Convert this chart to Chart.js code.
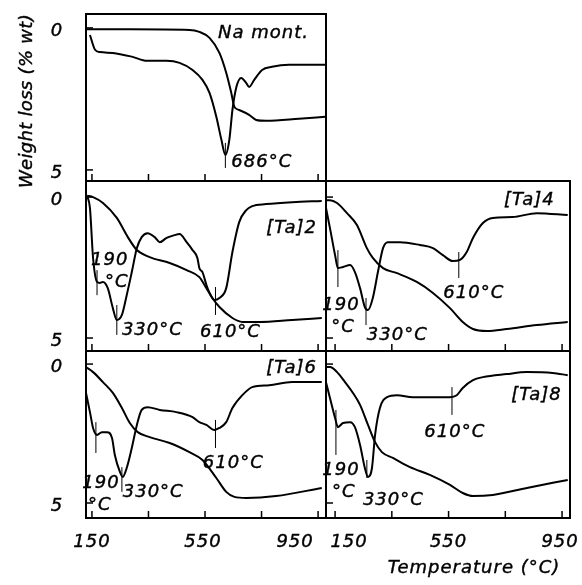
<!DOCTYPE html>
<html>
<head>
<meta charset="utf-8">
<script src="https://cdn.jsdelivr.net/npm/chart.js@4.4.1/dist/chart.umd.min.js"></script>
<style>
  html, body { margin: 0; padding: 0; background: #fff; }
  #wrap { position: relative; width: 582px; height: 585px; overflow: hidden; }
  #wrap canvas { position: absolute; left: 0; top: 0; }
</style>
</head>
<body>
<div id="wrap">
  <canvas id="na" width="582" height="585"></canvas>
  <canvas id="ta2" width="582" height="585"></canvas>
  <canvas id="ta4" width="582" height="585"></canvas>
  <canvas id="ta6" width="582" height="585"></canvas>
  <canvas id="ta8" width="582" height="585"></canvas>
</div>
<script>
// tick values shared by every panel
const xTickValues = [150, 350, 550, 750, 950];
const xTickLabels = [150, 550, 950];
const yTickValues = [0, 5];

// Na montmorillonite
const naTgT = [129, 284, 495, 530, 566, 601, 625, 643, 654, 671, 706, 731, 766, 882, 975];
const naTgW = [0.05, 0.05, 0.07, 0.14, 0.35, 0.88, 1.58, 2.29, 2.78, 2.89, 3.06, 3.24, 3.27, 3.20, 3.13];
const naDtgT = [143, 161, 178, 224, 294, 344, 414, 460, 506, 541, 566, 590, 608, 622, 636, 647, 661, 678, 696, 706, 724, 752, 787, 847, 975];
const naDtgV = [0.25, 0.77, 0.85, 0.88, 1.02, 1.16, 1.16, 1.23, 1.48, 1.83, 2.29, 3.13, 3.94, 4.47, 3.94, 2.89, 2.08, 1.76, 1.94, 2.08, 1.83, 1.48, 1.37, 1.30, 1.30];

// [Ta]2
const ta2TgT = [133, 154, 189, 238, 277, 309, 354, 425, 485, 530, 555, 576, 601, 647, 682, 742, 858, 963];
const ta2TgW = [-0.05, 0, 0.21, 0.74, 1.42, 1.88, 2.13, 2.34, 2.59, 2.84, 3.23, 3.58, 3.90, 4.29, 4.43, 4.43, 4.36, 4.29];
const ta2DtgT = [133, 143, 154, 168, 178, 189, 206, 224, 238, 256, 273, 291, 309, 326, 347, 372, 390, 414, 442, 460, 485, 506, 523, 530, 541, 555, 566, 583, 601, 625, 647, 671, 696, 717, 766, 858, 963];
const ta2DtgV = [-0.05, 0.39, 2.16, 3.01, 3.05, 3.01, 3.23, 3.94, 4.36, 4.18, 3.48, 2.66, 1.81, 1.42, 1.28, 1.42, 1.60, 1.45, 1.35, 1.31, 1.60, 1.88, 2.16, 2.52, 2.66, 3.12, 3.40, 3.65, 3.58, 3.23, 1.95, 0.89, 0.46, 0.32, 0.25, 0.18, 0.14];

// [Ta]4
const ta4TgT = [118, 132, 157, 192, 227, 262, 283, 319, 368, 438, 495, 555, 600, 636, 685, 755, 861, 970];
const ta4TgW = [0.11, 0.11, 0.21, 0.57, 0.99, 1.81, 2.16, 2.52, 2.70, 3.01, 3.40, 3.94, 4.43, 4.68, 4.75, 4.68, 4.54, 4.43];
const ta4DtgT = [118, 132, 150, 160, 178, 203, 220, 238, 255, 266, 283, 301, 319, 336, 379, 449, 495, 530, 565, 590, 614, 636, 671, 706, 776, 861, 970];
const ta4DtgV = [0.39, 1.10, 2.06, 2.52, 2.48, 2.41, 2.66, 3.23, 3.90, 4.01, 3.58, 2.66, 1.81, 1.60, 1.60, 1.70, 1.81, 2.06, 2.27, 2.23, 1.95, 1.45, 0.92, 0.74, 0.71, 0.57, 0.64];

// [Ta]6
const ta6TgT = [129, 154, 189, 224, 256, 284, 312, 354, 425, 495, 541, 590, 625, 654, 696, 801, 963];
const ta6TgW = [0.11, 0.29, 0.65, 1.04, 1.58, 2.12, 2.45, 2.63, 2.84, 3.17, 3.45, 4.10, 4.60, 4.78, 4.82, 4.75, 4.46];
const ta6DtgT = [129, 143, 154, 168, 185, 203, 221, 231, 249, 259, 273, 291, 309, 326, 347, 390, 449, 506, 530, 555, 583, 601, 625, 647, 682, 717, 777, 858, 963];
const ta6DtgV = [1.04, 1.73, 2.30, 2.55, 2.45, 2.45, 2.66, 3.27, 3.88, 4.06, 3.74, 3.02, 2.19, 1.65, 1.55, 1.65, 1.73, 1.91, 2.09, 2.19, 2.37, 2.30, 2.09, 1.58, 1.12, 0.83, 0.76, 0.65, 0.65];

// [Ta]8
const ta8TgT = [118, 132, 157, 185, 213, 238, 266, 291, 315, 354, 414, 484, 555, 600, 636, 706, 826, 970];
const ta8TgW = [0.11, 0.11, 0.29, 0.65, 1.04, 1.47, 2.19, 2.81, 3.17, 3.38, 3.71, 3.99, 4.35, 4.64, 4.75, 4.71, 4.46, 4.17];
const ta8DtgT = [118, 132, 150, 160, 178, 203, 220, 238, 255, 266, 280, 291, 308, 333, 368, 424, 484, 555, 579, 600, 636, 671, 755, 826, 917, 970];
const ta8DtgV = [0.65, 1.22, 1.94, 2.27, 2.12, 2.09, 2.27, 2.91, 3.74, 4.06, 3.74, 2.55, 1.58, 1.19, 1.12, 1.19, 1.19, 1.19, 1.12, 0.86, 0.58, 0.47, 0.36, 0.29, 0.32, 0.40];

const FONT = 'italic 18px "DejaVu Sans", sans-serif';

// panel layout: box = chart area in page pixels [left, top, right, bottom]
const panels = [
  {
    id: 'na', box: [86, 14, 326, 181], x: [129, 978], y: [-0.49, 5.39],
    tg: [naTgT, naTgW], dtg: [naDtgT, naDtgV], yLabels: true, titles: true,
    markers: [{ t: 622, from: 4.05, to: 4.93 }],
    notes: [
      { text: 'Na mont.', t: 918, v: 0.18, align: 'right' },
      { text: '686°C', t: 643, v: 4.75, align: 'left' }
    ]
  },
  {
    id: 'ta2', box: [86, 181, 326, 351], x: [129, 978], y: [-0.57, 5.46],
    tg: [ta2TgT, ta2TgW], dtg: [ta2DtgT, ta2DtgV], yLabels: true,
    markers: [{ t: 168, from: 2.59, to: 3.48 }, { t: 238, from: 3.83, to: 4.89 }, { t: 587, from: 3.19, to: 4.18 }],
    notes: [
      { text: '[Ta]2', t: 946, v: 1.10, align: 'right' },
      { text: '190', t: 213, v: 2.23 },
      { text: '°C', t: 238, v: 3.01 },
      { text: '330°C', t: 256, v: 4.72, align: 'left' },
      { text: '610°C', t: 640, v: 4.79 }
    ]
  },
  {
    id: 'ta4', box: [326, 181, 570, 351], x: [118, 978], y: [-0.57, 5.46],
    tg: [ta4TgT, ta4TgW], dtg: [ta4DtgT, ta4DtgV],
    markers: [{ t: 160, from: 1.88, to: 3.19 }, { t: 259, from: 3.58, to: 4.54 }, { t: 586, from: 1.95, to: 2.87 }],
    notes: [
      { text: '[Ta]4', t: 924, v: 0.11, align: 'right' },
      { text: '190', t: 171, v: 3.83 },
      { text: '°C', t: 178, v: 4.61 },
      { text: '330°C', t: 262, v: 4.89, align: 'left' },
      { text: '610°C', t: 639, v: 3.40 }
    ]
  },
  {
    id: 'ta6', box: [86, 351, 326, 518], x: [129, 978], y: [-0.47, 5.54],
    tg: [ta6TgT, ta6TgW], dtg: [ta6DtgT, ta6DtgV], yLabels: true,
    xLabelShift: [0, -2, -23],
    markers: [{ t: 164, from: 2.09, to: 3.20 }, { t: 256, from: 3.71, to: 4.60 }, { t: 587, from: 2.01, to: 3.02 }],
    notes: [
      { text: '[Ta]6', t: 946, v: 0.14, align: 'right' },
      { text: '190', t: 182, v: 4.28 },
      { text: '°C', t: 178, v: 5.07 },
      { text: '330°C', t: 259, v: 4.60, align: 'left' },
      { text: '610°C', t: 650, v: 3.56 }
    ]
  },
  {
    id: 'ta8', box: [326, 351, 570, 518], x: [118, 978], y: [-0.47, 5.54],
    tg: [ta8TgT, ta8TgW], dtg: [ta8DtgT, ta8DtgV],
    xLabelShift: [14, 0, -2],
    markers: [{ t: 153, from: 1.65, to: 3.27 }, { t: 262, from: 3.45, to: 4.10 }, { t: 562, from: 0.83, to: 1.83 }],
    notes: [
      { text: '[Ta]8', t: 949, v: 1.12, align: 'right' },
      { text: '190', t: 171, v: 3.81 },
      { text: '°C', t: 181, v: 4.60 },
      { text: '330°C', t: 248, v: 4.89, align: 'left' },
      { text: '610°C', t: 572, v: 2.45 }
    ]
  }
];

function toPoints(ts, vs) {
  return ts.map((t, i) => ({ x: t, y: vs[i] }));
}

function line(ctx, x1, y1, x2, y2) {
  ctx.beginPath();
  ctx.moveTo(x1, y1);
  ctx.lineTo(x2, y2);
  ctx.stroke();
}

// slightly heavier text, like the scanned lettering
function text(ctx, s, x, y) {
  ctx.fillText(s, x, y);
  ctx.strokeText(s, x, y);
}

// frame, inward ticks, peak markers and all the text of one panel
const panelDecor = {
  id: 'panelDecor',
  afterDatasetsDraw(chart, args, opts) {
    const p = opts.panel;
    const { ctx, chartArea: a } = chart;
    const x = chart.scales.x, y = chart.scales.y;
    ctx.save();
    ctx.strokeStyle = '#000';
    ctx.fillStyle = '#000';

    ctx.lineWidth = 2;
    ctx.strokeRect(a.left, a.top, a.right - a.left, a.bottom - a.top);

    ctx.lineWidth = 1.5;
    xTickValues.forEach(v => {
      const px = x.getPixelForValue(v);
      line(ctx, px, a.bottom, px, a.bottom - 7);
    });
    yTickValues.forEach(v => {
      const py = y.getPixelForValue(v);
      line(ctx, a.left, py, a.left + 7, py);
    });

    ctx.lineWidth = 1;
    p.markers.forEach(m => {
      const px = x.getPixelForValue(m.t);
      line(ctx, px, y.getPixelForValue(m.from), px, y.getPixelForValue(m.to));
    });

    ctx.font = FONT;
    ctx.letterSpacing = '1px';
    ctx.textBaseline = 'middle';
    ctx.lineWidth = 0.4;
    p.notes.forEach(n => {
      ctx.textAlign = n.align || 'center';
      text(ctx, n.text, x.getPixelForValue(n.t), y.getPixelForValue(n.v));
    });

    if (p.yLabels) {
      ctx.textAlign = 'center';
      yTickValues.forEach(v => text(ctx, String(v), 57, y.getPixelForValue(v) + 3));
    }
    if (p.xLabelShift) {
      ctx.textAlign = 'center';
      xTickLabels.forEach((v, i) => text(ctx, String(v), x.getPixelForValue(v) + p.xLabelShift[i], 542));
    }

    if (p.titles) {
      ctx.letterSpacing = '0.3px';
      ctx.save();
      ctx.translate(27, 101);
      ctx.rotate(-Math.PI / 2);
      text(ctx, 'Weight loss (% wt)', 0, 0);
      ctx.restore();
      ctx.letterSpacing = '1px';
      text(ctx, 'Temperature (°C)', 474, 568);
    }
    ctx.restore();
  }
};

panels.forEach(p => {
  const [l, t, r, b] = p.box;
  new Chart(document.getElementById(p.id), {
    type: 'line',
    data: {
      datasets: [
        { label: 'TG', data: toPoints(p.tg[0], p.tg[1]) },
        { label: 'DTG', data: toPoints(p.dtg[0], p.dtg[1]) }
      ]
    },
    options: {
      responsive: false,
      animation: false,
      devicePixelRatio: 1,
      layout: { padding: { left: l, top: t, right: 582 - r, bottom: 585 - b } },
      elements: {
        line: { borderColor: '#000', borderWidth: 2, cubicInterpolationMode: 'monotone', fill: false },
        point: { radius: 0 }
      },
      scales: {
        x: { type: 'linear', min: p.x[0], max: p.x[1], display: false },
        y: { type: 'linear', min: p.y[0], max: p.y[1], reverse: true, display: false }
      },
      plugins: {
        legend: { display: false },
        tooltip: { enabled: false },
        panelDecor: { panel: p }
      }
    },
    plugins: [panelDecor]
  });
});
</script>
</body>
</html>
